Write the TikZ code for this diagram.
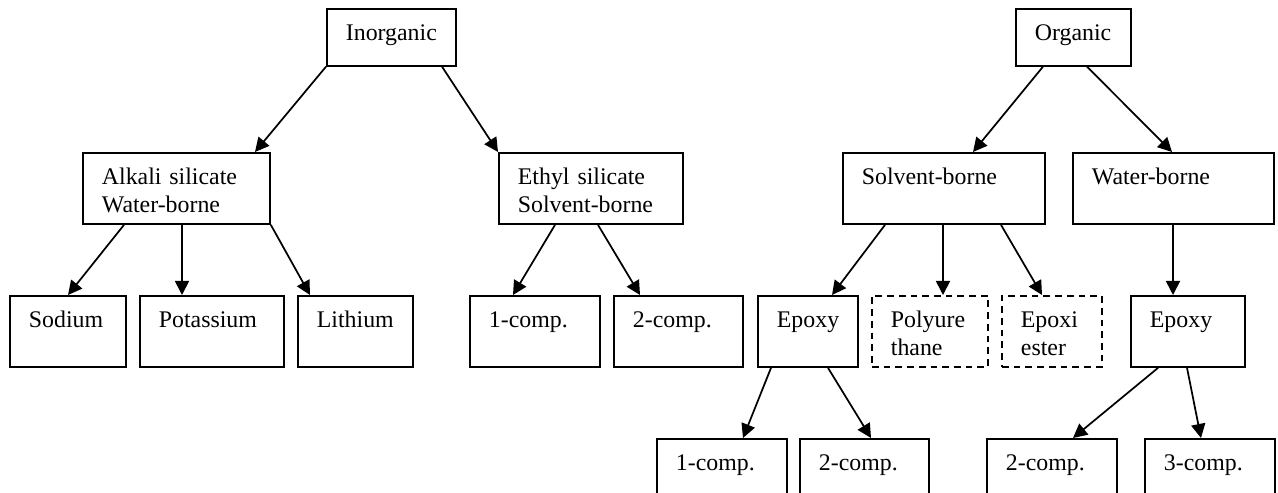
\documentclass[tikz,border=0pt]{standalone}
\usepackage{fontspec}
\setmainfont{Liberation Serif}
\usetikzlibrary{arrows.meta,calc}

\begin{document}
\begin{tikzpicture}[x=0.52pt,y=-0.52pt,>={Triangle[length=7.3pt,width=7.3pt]},line width=0.9pt,
    box/.style={draw, anchor=north west, align=left, inner xsep=9.9pt, inner ysep=0pt,
        font=\fontsize{12.4}{14.6}\selectfont, text height=16.2pt, text depth=20.8pt, text width=#1},
    topbox/.style={box=#1, text height=16.6pt, text depth=13pt},
    optbox/.style={box=#1, dash pattern=on 3.5pt off 2.6pt}]
    \useasboundingbox (0,0) rectangle (1278,493);
    \clip (0,0) rectangle (1278,493);

    % top level
    \node[topbox=47.3pt] (inorg) at (326,8)   {Inorganic};
    \node[topbox=40pt]   (org)   at (1015,8)  {Organic};

    % second level
    \node[box=77.5pt] (alkali)  at (82,152)   {Alkali silicate\\Water-borne};
    \node[box=75.9pt] (ethyl)   at (498,152)  {Ethyl silicate\\Solvent-borne};
    \node[box=85.3pt] (solvent) at (842,152)  {Solvent-borne};
    \node[box=84.8pt] (water)   at (1072,152) {Water-borne};

    % third level
    \node[box=40.6pt] (sodium)     at (9,295)    {Sodium};
    \node[box=55.1pt] (potassium)  at (139,295)  {Potassium};
    \node[box=40pt]   (lithium)    at (297,295)  {Lithium};
    \node[box=47.8pt] (ethone)     at (469,295)  {1-comp.};
    \node[box=47.3pt] (ethtwo)     at (613,295)  {2-comp.};
    \node[box=32.2pt] (sepoxy)     at (757,295)  {Epoxy};
    \node[optbox=40.6pt] (polyur)  at (871,295)  {Polyure\\thane};
    \node[optbox=32.2pt] (epoxiester) at (1001,295) {Epoxi\\ester};
    \node[box=39.5pt] (wepoxy)     at (1130,295) {Epoxy};

    % fourth level
    \node[box=47.8pt] (seone)   at (656,438)  {1-comp.};
    \node[box=47.3pt] (setwo)   at (799,438)  {2-comp.};
    \node[box=47.8pt] (wetwo)   at (986,438)  {2-comp.};
    \node[box=47.8pt] (wethree) at (1144,438) {3-comp.};

    \path[->] (inorg.south west)                  edge ($(alkali.north west)+(173,0)$)
              ($(inorg.south west)+(116,0)$)      edge (ethyl.north west)
              ($(alkali.south west)+(42,0)$)      edge ($(sodium.north west)+(59,0)$)
              ($(alkali.south west)+(100,0)$)     edge ($(potassium.north west)+(43,0)$)
              (alkali.south east)                 edge ($(lithium.north west)+(13,0)$)
              ($(ethyl.south west)+(57,0)$)       edge ($(ethone.north west)+(44,0)$)
              ($(ethyl.south west)+(100,0)$)      edge ($(ethtwo.north west)+(27,0)$);

    \path[->] ($(org.south west)+(28,0)$)         edge ($(solvent.north west)+(131,0)$)
              ($(org.south west)+(72,0)$)         edge ($(water.north west)+(100,0)$)
              ($(solvent.south west)+(43,0)$)     edge ($(sepoxy.north west)+(75,0)$)
              ($(solvent.south west)+(101,0)$)    edge ($(polyur.north west)+(72,0)$)
              ($(solvent.south west)+(159,0)$)    edge ($(epoxiester.north west)+(41,0)$)
              ($(water.south west)+(101,0)$)      edge ($(wepoxy.north west)+(43,0)$)
              ($(sepoxy.south west)+(14,0)$)      edge ($(seone.north west)+(87,0)$)
              ($(sepoxy.south west)+(71,0)$)      edge ($(setwo.north west)+(72,0)$)
              ($(wepoxy.south west)+(28,0)$)      edge ($(wetwo.north west)+(87,0)$)
              ($(wepoxy.south west)+(57,0)$)      edge ($(wethree.north west)+(57,0)$);
\end{tikzpicture}
\end{document}
